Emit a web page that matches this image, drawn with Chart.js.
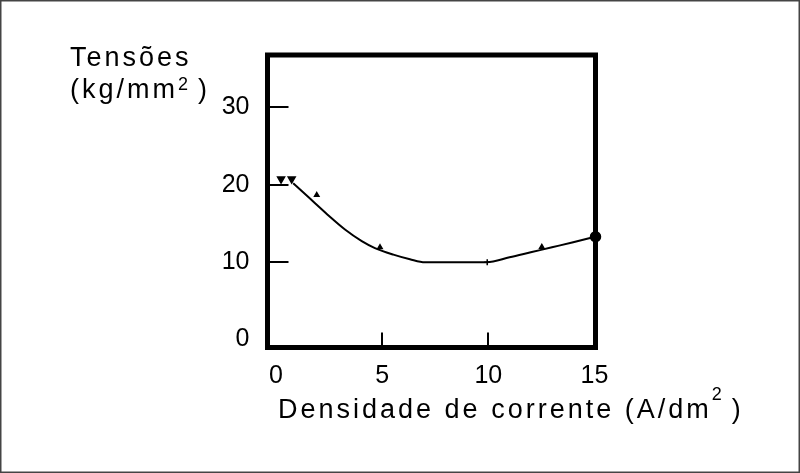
<!DOCTYPE html>
<html>
<head>
<meta charset="utf-8">
<script src="https://cdn.jsdelivr.net/npm/chart.js@4/dist/chart.umd.min.js"></script>
<style>
  body { margin: 0; background: #fff; }
  #wrap { width: 800px; height: 473px; position: relative; }
</style>
</head>
<body>
<div id="wrap"><canvas id="chart"></canvas></div>
<script>
// Tensões vs densidade de corrente
const curveX = [0.81, 1.2, 1.84, 2.5, 3.25, 4.04, 4.66, 5.53, 6.31, 7.02, 9.92, 11.0, 12.0, 13.0, 14.0, 15.05];
const curveY = [20.17, 19.2, 17.6, 15.95, 14.2, 12.7, 11.8, 10.95, 10.35, 9.96, 9.96, 10.6, 11.25, 11.9, 12.55, 13.27];
const pointX = [0.24, 0.74, 1.92, 4.9, 9.95, 12.52, 15.05];
const pointY = [20.73, 20.73, 18.66, 11.9, 9.96, 11.95, 13.27];
const xTicks = [0, 5, 10, 15];
const yTicks = [0, 10, 20, 30];
const yTitle = ["Tensões", "(kg/mm", "2", ")"];
const xTitle = ["Densidade de corrente (A/dm", "2", ")"];

const fontFamily = '"Liberation Sans", Arial, sans-serif';
const markerStyle = ['triangle', 'triangle', 'triangle', 'triangle', 'cross', 'triangle', 'circle'];
const markerRotation = [180, 180, 0, 0, 0, 0, 0];
const markerSize = [4, 4, 2.5, 2.5, 3, 2.5, 5];

// draws text, then a raised "2", then the closing bracket
function drawSuper(ctx, main, sup, close, x, y, supY) {
    ctx.font = '27px ' + fontFamily;
    ctx.fillText(main, x, y);
    let x2 = x + ctx.measureText(main).width;
    ctx.font = '18px ' + fontFamily;
    ctx.fillText(sup, x2, supY);
    let x3 = x2 + ctx.measureText(sup).width + 7;
    ctx.font = '27px ' + fontFamily;
    ctx.fillText(close, x3, y);
}

const framePlugin = {
    id: 'frame',
    beforeDatasetsDraw(chart) {
        const { ctx, chartArea: a, scales } = chart;
        ctx.save();
        ctx.strokeStyle = '#000';
        ctx.lineWidth = 5;
        ctx.strokeRect(a.left, a.top, a.right - a.left, a.bottom - a.top);

        // inside tick marks
        ctx.lineWidth = 2;
        ctx.beginPath();
        yTicks.filter(v => v > 0).forEach(v => {
            let y = Math.round(scales.y.getPixelForValue(v));
            ctx.moveTo(a.left, y);
            ctx.lineTo(a.left + 21, y);
        });
        xTicks.filter(v => v > 0 && v < 15).forEach(v => {
            let x = Math.round(scales.x.getPixelForValue(v));
            ctx.moveTo(x, a.bottom);
            ctx.lineTo(x, a.bottom - 15);
        });
        ctx.stroke();
        ctx.restore();
    },
    afterDraw(chart) {
        const ctx = chart.ctx;
        ctx.save();
        ctx.fillStyle = '#000';
        ctx.textBaseline = 'alphabetic';
        ctx.textAlign = 'left';
        ctx.letterSpacing = '3px';
        ctx.font = '27px ' + fontFamily;
        ctx.fillText(yTitle[0], 70, 66);
        drawSuper(ctx, yTitle[1], yTitle[2], yTitle[3], 70, 98, 90);
        drawSuper(ctx, xTitle[0], xTitle[1], xTitle[2], 278, 418, 400);

        // outer frame
        ctx.letterSpacing = '0px';
        ctx.strokeStyle = '#444';
        ctx.lineWidth = 1.5;
        ctx.strokeRect(0.75, 0.75, 798.5, 471.5);
        ctx.restore();
    }
};

const ctx = document.getElementById('chart').getContext('2d');
new Chart(ctx, {
    type: 'scatter',
    data: {
        datasets: [{
            data: curveX.map((x, i) => ({ x: x, y: curveY[i] })),
            showLine: true,
            borderColor: '#000',
            borderWidth: 2,
            pointRadius: 0,
            cubicInterpolationMode: 'monotone'
        }, {
            data: pointX.map((x, i) => ({ x: x, y: pointY[i] })),
            showLine: false,
            pointStyle: markerStyle,
            rotation: markerRotation,
            pointRadius: markerSize,
            backgroundColor: '#000',
            borderColor: '#000',
            borderWidth: 1.5,
            clip: false
        }]
    },
    options: {
        responsive: true,
        maintainAspectRatio: false,
        animation: false,
        layout: { padding: { left: 0, top: 55, right: 204.5, bottom: 0 } },
        plugins: { legend: { display: false }, tooltip: { enabled: false } },
        scales: {
            x: {
                type: 'linear',
                min: -0.4,
                max: 15.05,
                grid: { display: false },
                border: { display: false },
                afterBuildTicks: s => { s.ticks = xTicks.map(v => ({ value: v })); },
                afterFit: s => { s.height = 125.5; },
                ticks: { color: '#000', font: { family: fontFamily, size: 25 }, padding: 6, maxRotation: 0, autoSkip: false }
            },
            y: {
                min: -1.06,
                max: 36.77,
                grid: { display: false },
                border: { display: false },
                afterBuildTicks: s => { s.ticks = yTicks.map(v => ({ value: v })); },
                afterFit: s => { s.width = 267.5; },
                ticks: { color: '#000', font: { family: fontFamily, size: 25 }, padding: 10, autoSkip: false }
            }
        }
    },
    plugins: [framePlugin]
});
</script>
</body>
</html>
